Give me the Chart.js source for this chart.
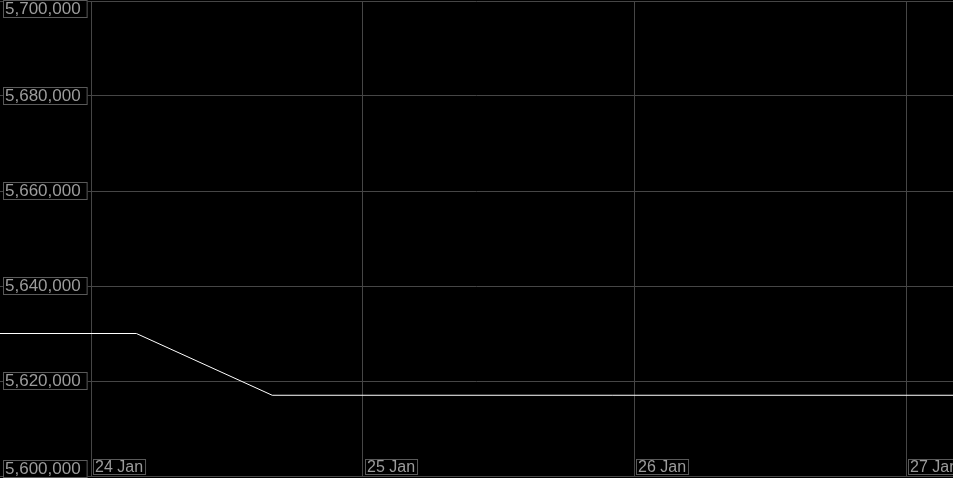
<!DOCTYPE html>
<html>
<head>
<meta charset="utf-8">
<script src="https://cdn.jsdelivr.net/npm/chart.js@4"></script>
<style>
  html, body { margin: 0; padding: 0; background: #000; }
  #wrap { width: 953px; height: 478px; }
</style>
</head>
<body>
<div id="wrap"><canvas id="chart"></canvas></div>
<script>
// hours counted from 24 Jan 00:00
const hours = [-8.1, 4, 16, 76.2];
const values = [5630000, 5630000, 5617000, 5617000];
const dayHours = [0, 24, 48, 72];
const dayLabels = ["24 Jan", "25 Jan", "26 Jan", "27 Jan"];
const yTicks = [5600000, 5620000, 5640000, 5660000, 5680000, 5700000];

const gridColor = "#464646";
const boxColor = "#5a5a5a";
const textColor = "#9c9c9c";

// draws boxed tick labels inside the plot area
const boxedLabels = {
  id: "boxedLabels",
  afterDraw(chart) {
    const ctx = chart.ctx;
    const xs = chart.scales.x, ys = chart.scales.y;
    const area = chart.chartArea;
    ctx.save();
    ctx.lineWidth = 1;
    ctx.strokeStyle = boxColor;
    ctx.textBaseline = "middle";

    ctx.font = "17px Arial, 'Liberation Sans'";
    yTicks.forEach(v => {
      const py = ys.getPixelForValue(v);
      const txt = v.toLocaleString("en-US");
      const w = ctx.measureText(txt).width;
      let top = Math.round(py) - 9;
      top = Math.max(0, Math.min(top, chart.height - 18));
      ctx.fillStyle = "#000";
      ctx.fillRect(3, top, w + 9, 18);
      ctx.strokeRect(3.5, top + 0.5, w + 8, 17);
      ctx.fillStyle = textColor;
      ctx.fillText(txt, 5, top + 9.5);
    });

    ctx.font = "16px Arial, 'Liberation Sans'";
    dayHours.forEach((h, i) => {
      const px = Math.round(xs.getPixelForValue(h));
      const txt = dayLabels[i];
      const w = ctx.measureText(txt).width;
      const top = Math.round(area.bottom) - 17;
      ctx.fillStyle = "#000";
      ctx.fillRect(px + 2, top, w + 5, 16);
      ctx.strokeRect(px + 2.5, top + 0.5, w + 4, 15);
      ctx.fillStyle = textColor;
      ctx.fillText(txt, px + 4, top + 8.5);
    });
    ctx.restore();
  }
};

new Chart(document.getElementById("chart"), {
  type: "line",
  data: {
    datasets: [{
      data: hours.map((h, i) => ({ x: h, y: values[i] })),
      borderColor: "#ffffff",
      borderWidth: 1,
      pointRadius: 0,
      tension: 0,
      fill: false
    }]
  },
  options: {
    responsive: true,
    maintainAspectRatio: false,
    animation: false,
    layout: { padding: { top: 1, bottom: 2, left: 0, right: 0 } },
    plugins: { legend: { display: false }, tooltip: { enabled: false } },
    scales: {
      x: {
        type: "linear",
        min: -8.05,
        max: 76.15,
        afterBuildTicks: s => { s.ticks = dayHours.map(v => ({ value: v })); },
        ticks: { display: false },
        grid: { color: gridColor, drawTicks: false },
        border: { display: true, color: gridColor }
      },
      y: {
        min: 5600000,
        max: 5700000,
        afterBuildTicks: s => { s.ticks = yTicks.map(v => ({ value: v })); },
        ticks: { display: false },
        grid: { color: gridColor, drawTicks: false },
        border: { display: false }
      }
    }
  },
  plugins: [boxedLabels]
});
</script>
</body>
</html>
